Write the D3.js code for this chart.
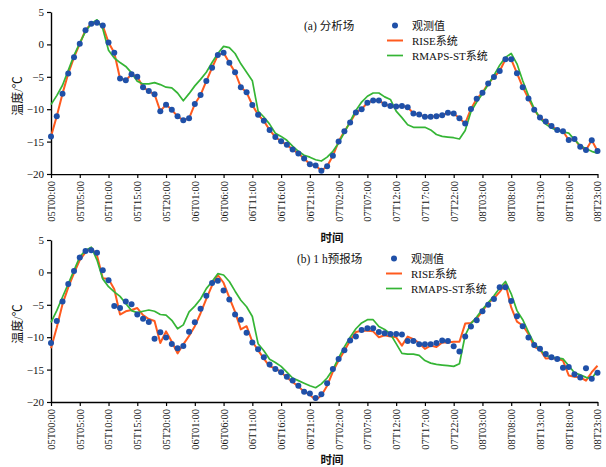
<!DOCTYPE html>
<html>
<head>
<meta charset="utf-8">
<script src="https://cdn.jsdelivr.net/npm/d3@7"></script>
<style>
body { margin:0; background:#fff; }
svg text { font-family: "Times New Roman", "Liberation Serif", "Noto Sans CJK SC", serif; fill:#111; }
</style>
</head>
<body>
<div id="chart"></div>
<script>
(function(){

var width = 606,
	height = 467;

// hourly data, 05T00 .. 08T23

var obsA = [-14.2,-11.1,-7.6,-4.5,-2.0,0.1,2.2,3.2,3.35,2.9,
	0.3,-1.3,-5.25,-5.55,-4.6,-5.0,-6.6,-7.2,-7.7,-10.3,
	-9.3,-10.1,-11.1,-11.7,-11.4,-9.2,-7.8,-5.65,-3.6,-1.65,
	-1.3,-2.85,-4.3,-6.6,-7.4,-9.35,-10.85,-11.8,-13.2,-14.3,
	-14.95,-15.5,-16.2,-16.85,-17.6,-18.5,-18.7,-19.5,-18.8,-17.2,
	-15.0,-13.4,-12.05,-10.5,-10.0,-9.0,-8.65,-8.65,-9.25,-9.5,
	-9.6,-9.5,-9.7,-10.65,-10.8,-11.15,-11.15,-11.1,-10.95,-10.55,
	-10.65,-11.4,-12.2,-9.95,-8.4,-7.45,-6.05,-5.05,-4.1,-2.3,
	-2.3,-4.45,-6.6,-8.35,-10.1,-11.3,-11.9,-12.6,-13.2,-13.4,
	-14.75,-14.6,-15.8,-16.3,-14.8,-16.45];

var riseA = [-14.2,-11.1,-7.6,-4.5,-2.0,0.1,2.2,3.2,3.35,2.9,
	0.3,-1.3,-5.25,-5.55,-4.6,-5.0,-6.6,-7.2,-7.7,-10.3,
	-9.3,-10.1,-11.1,-11.7,-11.4,-9.2,-7.8,-5.65,-3.6,-1.65,
	-1.3,-2.85,-4.3,-6.6,-7.4,-9.35,-10.85,-11.8,-13.2,-14.3,
	-14.95,-15.5,-16.2,-16.85,-17.6,-18.5,-18.7,-19.5,-18.8,-17.2,
	-15.0,-13.4,-12.05,-10.5,-10.0,-9.0,-8.65,-8.65,-9.25,-9.5,
	-9.6,-9.5,-9.7,-10.65,-10.8,-11.15,-11.15,-11.1,-10.95,-10.55,
	-10.65,-11.4,-12.2,-9.95,-8.4,-7.45,-6.05,-5.05,-4.1,-2.3,
	-2.3,-4.45,-6.6,-8.35,-10.1,-11.3,-11.9,-12.6,-13.2,-13.4,
	-14.75,-14.6,-15.8,-16.3,-14.8,-16.45];

var rmapsA = [-9.3,-7.9,-6.3,-4.0,-1.7,0.2,2.0,3.2,3.8,2.4,
	-0.9,-2.1,-2.8,-3.4,-4.4,-5.7,-6.1,-6.1,-5.9,-6.2,
	-6.6,-6.7,-7.5,-8.7,-7.6,-6.4,-5.4,-4.3,-2.8,-1.4,
	-0.3,-0.5,-1.4,-3.0,-4.3,-5.6,-10.3,-11.2,-12.3,-13.7,
	-14.2,-14.8,-15.7,-16.5,-17.1,-17.4,-17.8,-18.0,-17.4,-16.5,
	-15.2,-13.6,-11.9,-10.2,-8.9,-8.0,-7.5,-7.5,-8.1,-8.5,
	-10.3,-11.3,-12.4,-12.8,-12.8,-12.8,-13.2,-13.9,-14.2,-14.3,
	-14.4,-14.6,-13.3,-10.4,-8.9,-7.6,-6.2,-4.8,-3.2,-2.0,
	-1.4,-3.0,-5.6,-7.9,-9.9,-11.4,-12.3,-12.9,-13.3,-13.5,
	-13.7,-14.7,-15.6,-16.1,-16.5,-16.8];

var obsB = [-10.9,-7.5,-4.5,-1.8,0.2,2.3,3.3,3.4,3.05,0.35,
	-1.2,-5.2,-5.5,-4.5,-4.9,-6.5,-7.15,-7.65,-10.25,-9.25,
	-10.05,-11.05,-11.7,-11.35,-9.15,-7.7,-5.6,-3.6,-1.65,-1.3,
	-2.8,-4.2,-6.5,-7.3,-9.3,-10.8,-11.85,-13.1,-14.2,-14.9,
	-15.4,-16.1,-16.7,-17.5,-18.4,-18.7,-19.4,-18.8,-17.1,-14.9,
	-13.35,-12.0,-10.5,-9.9,-8.9,-8.6,-8.6,-9.2,-9.4,-9.5,
	-9.5,-9.6,-10.6,-10.6,-11.1,-11.1,-11.1,-10.9,-10.5,-10.6,
	-11.4,-12.2,-9.9,-8.35,-7.4,-6.0,-5.0,-4.1,-2.3,-2.3,
	-4.4,-6.75,-8.3,-10.05,-11.2,-11.8,-12.6,-13.1,-13.35,-14.7,
	-14.6,-15.7,-16.2,-14.8,-16.4,-15.5];

var riseB = [-11.7,-8.5,-4.9,-2.3,-0.1,1.9,3.1,3.8,2.6,-0.9,
	-1.0,-2.6,-6.5,-6.0,-5.8,-5.5,-6.6,-7.2,-7.5,-10.9,
	-9.1,-10.7,-12.5,-11.1,-9.8,-8.3,-6.3,-4.1,-2.0,-0.4,
	-1.6,-3.9,-6.1,-8.8,-8.3,-10.7,-12.0,-13.3,-14.5,-14.8,
	-15.4,-16.2,-16.9,-17.6,-18.4,-18.9,-19.7,-19.0,-17.5,-15.3,
	-13.6,-12.1,-10.5,-9.2,-9.0,-9.0,-9.1,-10.0,-9.7,-9.9,
	-10.0,-11.3,-9.9,-10.3,-10.9,-11.8,-11.3,-11.5,-10.8,-10.8,
	-10.7,-10.7,-7.9,-7.8,-7.1,-6.0,-4.7,-4.0,-3.0,-1.8,
	-5.4,-7.6,-8.2,-9.5,-11.5,-11.9,-13.3,-13.2,-13.35,-13.6,
	-15.9,-16.1,-16.2,-16.7,-15.4,-14.4];

var rmapsB = [-7.7,-5.9,-3.8,-1.75,0.3,2.4,3.4,3.9,1.9,-1.0,
	-2.2,-3.0,-3.7,-4.8,-5.9,-6.2,-6.0,-5.8,-6.0,-6.5,
	-6.6,-7.4,-8.7,-8.1,-6.1,-5.2,-4.1,-2.5,-1.4,-0.2,
	-0.4,-1.4,-2.9,-4.3,-5.3,-6.8,-11.0,-12.1,-13.4,-13.9,
	-14.5,-15.4,-16.3,-16.7,-17.1,-17.5,-17.8,-17.2,-16.3,-15.0,
	-13.2,-11.5,-10.0,-8.7,-7.8,-7.3,-7.3,-8.35,-8.8,-9.5,
	-11.0,-12.5,-12.6,-12.6,-12.8,-13.6,-14.0,-14.2,-14.3,-14.4,
	-14.5,-14.1,-9.7,-7.9,-6.9,-5.7,-4.7,-3.6,-2.4,-1.4,
	-3.3,-5.9,-7.3,-9.2,-11.0,-11.9,-12.8,-13.1,-13.2,-13.35,
	-14.4,-15.5,-15.8,-16.2,-16.4,-15.1];

var xTicks = [0,5,10,15,20,25,30,35,40,45,50,55,60,65,70,75,80,85,90,95];
var xTickLabels = ["05T00:00","05T05:00","05T10:00","05T15:00","05T20:00",
	"06T01:00","06T06:00","06T11:00","06T16:00","06T21:00",
	"07T02:00","07T07:00","07T12:00","07T17:00","07T22:00",
	"08T03:00","08T08:00","08T13:00","08T18:00","08T23:00"];
var yTicks = [5,0,-5,-10,-15,-20];

var seriesNames = ["观测值","RISE系统","RMAPS-ST系统"];

var obscolor = "#1f50a8",
	risecolor = "#ff5a1e",
	rmapscolor = "#35b535";

var svg = d3.select("#chart").append("svg")
	.attr("width",width)
	.attr("height",height);

var X = d3.scaleLinear().domain([0,95]).range([51,597.5]);

var panels = [
	{ id:"a", top:12, bottom:174, obs:obsA, rise:riseA, rmaps:rmapsA, title:"(a) 分析场",
	  tx:304, lx:387, ly:25.5, clip:221, xtitle:242 },
	{ id:"b", top:240, bottom:402, obs:obsB, rise:riseB, rmaps:rmapsB, title:"(b) 1 h预报场",
	  tx:297, lx:386, ly:258.5, clip:null, xtitle:463.5 }
];

// the first panel's time labels are cut off in the original figure
svg.append("defs").append("clipPath").attr("id","clip_a")
	.append("rect").attr("x",0).attr("y",0).attr("width",width).attr("height",221);

panels.forEach(function(p){

	var Y = d3.scaleLinear().domain([-20,5]).range([p.bottom,p.top]);
	var g = svg.append("g").attr("class","panel_"+p.id);

	var line = d3.line()
		.x(function(d,i){return X(i)})
		.y(function(d){return Y(d)});

	// axes
	var xa = g.append("g")
		.attr("transform","translate(0,"+p.bottom+")")
		.call(d3.axisBottom(X).tickValues(xTicks).tickSize(4).tickSizeOuter(0)
			.tickFormat(function(d,i){return xTickLabels[i]}));
	if (p.clip) xa.attr("clip-path","url(#clip_a)");
	xa.selectAll("text")
		.attr("transform","rotate(-90)")
		.attr("text-anchor","end")
		.attr("x",-7)
		.attr("y",0)
		.attr("dy","0.33em")
		.style("font-size","10.5px");

	var ya = g.append("g")
		.attr("transform","translate(51,0)")
		.call(d3.axisLeft(Y).tickValues(yTicks).tickSize(4).tickSizeOuter(0).tickPadding(3));
	ya.selectAll("text").style("font-size","11px");

	[xa,ya].forEach(function(a){
		a.select(".domain").attr("stroke","#000").attr("stroke-width",1.4);
		a.selectAll(".tick line").attr("stroke","#000").attr("stroke-width",1.2);
		a.selectAll("text").attr("fill","#111");
	});

	// series
	g.append("path").datum(p.rise)
		.attr("d",line)
		.attr("fill","none")
		.attr("stroke",risecolor)
		.attr("stroke-width",2)
		.attr("stroke-linejoin","round");

	g.append("path").datum(p.rmaps)
		.attr("d",line)
		.attr("fill","none")
		.attr("stroke",rmapscolor)
		.attr("stroke-width",1.7)
		.attr("stroke-linejoin","round");

	g.selectAll(".obs").data(p.obs).enter().append("circle")
		.attr("class","obs")
		.attr("cx",function(d,i){return X(i)})
		.attr("cy",function(d){return Y(d)})
		.attr("r",3)
		.attr("fill",obscolor);

	// titles
	g.append("text")
		.attr("x",18)
		.attr("y",(p.top+p.bottom)/2+3)
		.attr("transform","rotate(-90,18,"+((p.top+p.bottom)/2+3)+")")
		.attr("text-anchor","middle")
		.attr("dy","0.35em")
		.style("font-size","12px")
		.text("温度/℃");

	g.append("text")
		.attr("x",332)
		.attr("y",p.xtitle)
		.attr("text-anchor","middle")
		.style("font-size","11.5px")
		.style("font-weight","bold")
		.text("时间");

	g.append("text")
		.attr("x",p.tx)
		.attr("y",p.ly+4.5)
		.style("font-size","11.5px")
		.text(p.title);

	// legend
	var lg = g.append("g").attr("transform","translate("+p.lx+","+p.ly+")");
	lg.append("circle").attr("cx",8).attr("cy",0).attr("r",3).attr("fill",obscolor);
	lg.append("line").attr("x1",0).attr("x2",16).attr("y1",15).attr("y2",15)
		.attr("stroke",risecolor).attr("stroke-width",2);
	lg.append("line").attr("x1",0).attr("x2",16).attr("y1",30).attr("y2",30)
		.attr("stroke",rmapscolor).attr("stroke-width",1.7);
	lg.selectAll(".ltext").data(seriesNames).enter().append("text")
		.attr("class","ltext")
		.attr("x",25)
		.attr("y",function(d,i){return i*15})
		.attr("dy","0.38em")
		.style("font-size","11px")
		.text(function(d){return d});
});

})()
</script>
</body>
</html>
